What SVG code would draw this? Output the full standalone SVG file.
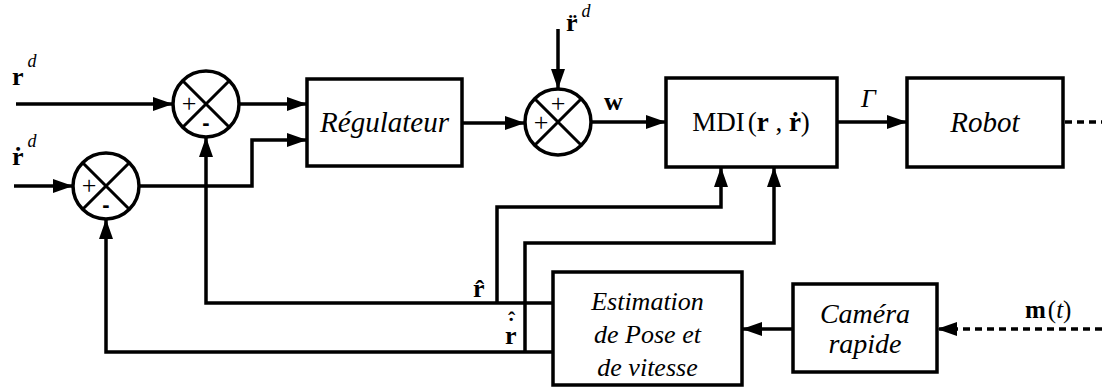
<svg xmlns="http://www.w3.org/2000/svg" width="1102" height="387" viewBox="0 0 1102 387">
<defs>
<style>
.box{fill:#fff;stroke:#000;stroke-width:3.5}
.sum{fill:#fff;stroke:#000;stroke-width:3.5}
.x{stroke:#000;stroke-width:3}
.ln{fill:none;stroke:#000;stroke-width:3.5}
.dot{fill:none;stroke:#000;stroke-width:3.5;stroke-dasharray:7 5}
.t{font-family:"Liberation Serif",serif;font-style:italic;font-size:29px;text-anchor:middle}
.lb{font-family:"Liberation Serif",serif;font-weight:bold;font-size:26px}
.ac{font-size:22px}
.sup{font-weight:normal;font-style:italic;font-size:18px}
.sg{font-family:"Liberation Serif",serif;font-size:26px;text-anchor:middle}
.mn{font-family:"Liberation Sans",sans-serif;font-weight:bold;font-size:22px;text-anchor:middle}
</style>
<marker id="a" markerUnits="userSpaceOnUse" markerWidth="20" markerHeight="16" viewBox="0 0 20 16" refX="20" refY="8" orient="auto">
<path d="M0 1 L20 8 L0 15 Z" fill="#000"/>
</marker>
</defs>
<g id="connectors">
<path class="ln" d="M16 104 H173" marker-end="url(#a)"/>
<path class="ln" d="M14 186 H73" marker-end="url(#a)"/>
<path class="ln" d="M239 104 H307" marker-end="url(#a)"/>
<path class="ln" d="M139 186 H252 V140 H307" marker-end="url(#a)"/>
<path class="ln" d="M462 123 H525" marker-end="url(#a)"/>
<path class="ln" d="M558 29 V89" marker-end="url(#a)"/>
<path class="ln" d="M591 122 H666" marker-end="url(#a)"/>
<path class="ln" d="M837 122 H907" marker-end="url(#a)"/>
<path class="dot" d="M1065 122 H1102"/>
<path class="dot" d="M1102 329 H937" marker-end="url(#a)"/>
<path class="ln" d="M793 329 H742" marker-end="url(#a)"/>
<path class="ln" d="M553 303 H206 V137" marker-end="url(#a)"/>
<path class="ln" d="M553 352 H106 V219" marker-end="url(#a)"/>
<path class="ln" d="M497 303 V207 H721 V167" marker-end="url(#a)"/>
<path class="ln" d="M525 352 V243 H774 V167" marker-end="url(#a)"/>
</g>
<g id="sum1">
<circle class="sum" cx="206" cy="104" r="33"/>
<path class="x" d="M182.7 80.7 L229.3 127.3 M229.3 80.7 L182.7 127.3"/>
<text class="sg" x="189" y="112">+</text>
<text class="mn" x="206" y="130">-</text>
</g>
<g id="sum2">
<circle class="sum" cx="106" cy="186" r="33"/>
<path class="x" d="M82.7 162.7 L129.3 209.3 M129.3 162.7 L82.7 209.3"/>
<text class="sg" x="89" y="194">+</text>
<text class="mn" x="106" y="212">-</text>
</g>
<g id="sum3">
<circle class="sum" cx="558" cy="122" r="33"/>
<path class="x" d="M534.7 98.7 L581.3 145.3 M581.3 98.7 L534.7 145.3"/>
<text class="sg" x="558" y="112">+</text>
<text class="sg" x="541" y="131">+</text>
</g>
<g id="regulateur">
<rect class="box" x="307" y="79" width="155" height="87"/>
<text class="t" x="384.5" y="132">Régulateur</text>
</g>
<g id="mdi">
<rect class="box" x="666" y="78" width="171" height="89"/>
<text font-family="Liberation Serif, serif" font-size="27" text-anchor="middle" x="751" y="131">MDI<tspan dx="3">(</tspan><tspan font-weight="bold">r</tspan> , <tspan font-weight="bold">ṙ</tspan>)</text>
</g>
<g id="robot">
<rect class="box" x="907" y="78" width="156" height="89"/>
<text class="t" x="985" y="132">Robot</text>
</g>
<g id="estimation">
<rect class="box" x="553" y="272" width="189" height="113"/>
<text class="t" style="font-size:26px" x="647.5" y="310">Estimation</text>
<text class="t" style="font-size:26px" x="647.5" y="343">de Pose et</text>
<text class="t" style="font-size:26px" x="647.5" y="376">de vitesse</text>
</g>
<g id="camera">
<rect class="box" x="793" y="284" width="144" height="88"/>
<text class="t" style="font-size:28px" x="865" y="323">Caméra</text>
<text class="t" style="font-size:28px" x="865" y="353">rapide</text>
</g>
<g id="labels">
<text class="lb" x="12" y="85">r<tspan class="sup" dx="4" dy="-18">d</tspan></text>
<text class="lb" x="12" y="165">ṙ<tspan class="sup" dx="4" dy="-18">d</tspan></text>
<text class="lb" x="566" y="31">r̈<tspan class="sup" dx="4" dy="-14">d</tspan></text>
<text class="lb" x="604" y="110">w</text>
<text font-family="Liberation Serif, serif" font-size="26" font-style="italic" x="861" y="107">Γ</text>
<text class="lb" x="473" y="297">r̂</text>
<text class="lb" x="505" y="344">r<tspan class="ac" dx="-9" dy="-11">˙</tspan><tspan class="ac" dx="-7" dy="-6">ˆ</tspan></text>
<text font-family="Liberation Serif, serif" font-size="25" x="1025" y="318"><tspan font-weight="bold">m</tspan><tspan dx="2">(</tspan><tspan font-style="italic">t</tspan>)</text>
</g>
</svg>
